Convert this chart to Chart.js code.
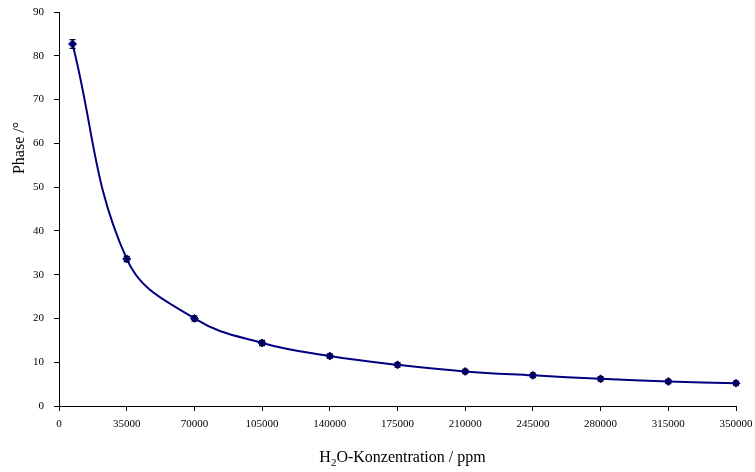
<!DOCTYPE html>
<html>
<head>
<meta charset="utf-8">
<script src="https://cdn.jsdelivr.net/npm/chart.js@4.4.0/dist/chart.umd.min.js"></script>
<style>
  html, body { margin: 0; padding: 0; background: #fff; }
  #wrap { width: 755px; height: 472px; }
</style>
</head>
<body>
<div id="wrap"><canvas id="phaseChart" width="755" height="472"></canvas></div>
<script>
// water concentration (ppm) vs. phase shift (degrees)
const concentration = [7000, 35000, 70000, 105000, 140000, 175000, 210000, 245000, 280000, 315000, 350000];
const phase         = [82.7, 33.6, 20.0, 14.4, 11.4, 9.4, 7.9, 7.0, 6.2, 5.6, 5.2];
const phaseError    = [1.0, 0.6, 0.6, 0.6, 0.5, 0.5, 0.5, 0.5, 0.5, 0.5, 0.5];

const NAVY = "#000080";
const SERIF = "'Liberation Serif', 'Times New Roman', serif";

// vertical error bars with small caps, drawn through the chart's scales
const errorBars = {
  id: "errorBars",
  afterDatasetsDraw(chart) {
    const { ctx, scales: { x, y } } = chart;
    ctx.save();
    ctx.strokeStyle = "#000033";
    ctx.lineWidth = 1.2;
    concentration.forEach((c, i) => {
      const px = x.getPixelForValue(c);
      const top = y.getPixelForValue(phase[i] + phaseError[i]);
      const bot = y.getPixelForValue(phase[i] - phaseError[i]);
      ctx.beginPath();
      ctx.moveTo(px, top); ctx.lineTo(px, bot);
      ctx.moveTo(px - 3, top); ctx.lineTo(px + 3, top);
      ctx.moveTo(px - 3, bot); ctx.lineTo(px + 3, bot);
      ctx.stroke();
    });
    ctx.restore();
  }
};

// axis titles (x title needs a subscript 2)
const axisTitles = {
  id: "axisTitles",
  afterDraw(chart) {
    const { ctx, chartArea } = chart;
    ctx.save();
    ctx.fillStyle = "#000";
    ctx.textBaseline = "alphabetic";

    const big = "16px " + SERIF;
    const small = "11px " + SERIF;
    ctx.font = big;
    const wH = ctx.measureText("H").width;
    const rest = "O-Konzentration / ppm";
    const wRest = ctx.measureText(rest).width;
    ctx.font = small;
    const w2 = ctx.measureText("2").width;
    const total = wH + w2 + wRest;
    let tx = (chartArea.left + chartArea.right) / 2 - total / 2 + 5;
    const base = 462;
    ctx.font = big;
    ctx.fillText("H", tx, base);
    tx += wH;
    ctx.font = small;
    ctx.fillText("2", tx, base + 4);
    tx += w2;
    ctx.font = big;
    ctx.fillText(rest, tx, base);

    ctx.translate(24, 148);
    ctx.rotate(-Math.PI / 2);
    ctx.textAlign = "center";
    ctx.font = big;
    ctx.fillText("Phase /°", 0, 0);
    ctx.restore();
  }
};

new Chart(document.getElementById("phaseChart"), {
  type: "line",
  data: {
    datasets: [{
      data: concentration.map((c, i) => ({ x: c, y: phase[i] })),
      borderColor: NAVY,
      backgroundColor: NAVY,
      borderWidth: 2,
      tension: 0.4,
      clip: false,
      pointStyle: "rectRot",
      pointRadius: 4,
      pointBorderWidth: 1,
      pointBorderColor: NAVY,
      pointBackgroundColor: NAVY,
      fill: false
    }]
  },
  options: {
    responsive: false,
    animation: false,
    layout: { autoPadding: false, padding: { left: 0, right: 19, top: 12, bottom: 0 } },
    plugins: {
      legend: { display: false },
      tooltip: { enabled: false }
    },
    scales: {
      x: {
        type: "linear",
        min: 0,
        max: 350000,
        // fixed axis box; label overflow is covered by the layout padding
        afterFit: (axis) => {
          axis.height = 66;
          axis.paddingLeft = 0;
          axis.paddingRight = 0;
        },
        ticks: {
          stepSize: 35000,
          color: "#000",
          font: { family: SERIF, size: 11 },
          padding: 7,
          maxRotation: 0,
          autoSkip: false,
          callback: (v) => String(v)
        },
        grid: { drawOnChartArea: false, color: "#000", tickLength: 5 },
        border: { color: "#000", width: 1 }
      },
      y: {
        min: 0,
        max: 90,
        afterFit: (axis) => {
          axis.width = 59;
          axis.paddingTop = 0;
          axis.paddingBottom = 0;
        },
        ticks: {
          stepSize: 10,
          color: "#000",
          font: { family: SERIF, size: 11 },
          padding: 10
        },
        grid: { drawOnChartArea: false, color: "#000", tickLength: 5 },
        border: { color: "#000", width: 1 }
      }
    }
  },
  plugins: [errorBars, axisTitles]
});
</script>
</body>
</html>
